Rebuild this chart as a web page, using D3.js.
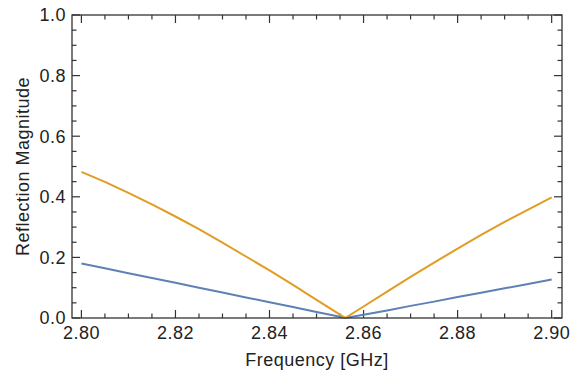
<!DOCTYPE html>
<html>
<head>
<meta charset="utf-8">
<script src="https://cdn.jsdelivr.net/npm/d3@7"></script>
<style>
  body { margin: 0; background: #fff; }
  text { font-family: "Liberation Sans", Arial, sans-serif; fill: #222; letter-spacing: 0.5px; }
</style>
</head>
<body>
<div id="chart"></div>
<script>
var freq = [2.800, 2.805, 2.810, 2.815, 2.820, 2.825, 2.830, 2.835, 2.840, 2.845, 2.850, 2.855, 2.8561,
            2.860, 2.865, 2.870, 2.875, 2.880, 2.885, 2.890, 2.895, 2.900];
// reflection magnitude, orange trace
var orangeVals = [0.482, 0.449, 0.413, 0.375, 0.335, 0.293, 0.249, 0.203, 0.157, 0.109, 0.060, 0.011, 0.0,
                  0.038, 0.087, 0.136, 0.183, 0.229, 0.274, 0.317, 0.358, 0.398];
// reflection magnitude, blue trace
var blueVals = [0.180, 0.164, 0.148, 0.132, 0.116, 0.100, 0.084, 0.068, 0.052, 0.036, 0.020, 0.004, 0.0,
                0.011, 0.025, 0.040, 0.054, 0.069, 0.083, 0.098, 0.112, 0.127];

var xTicks = [2.80, 2.82, 2.84, 2.86, 2.88, 2.90];
var yTicks = [0.0, 0.2, 0.4, 0.6, 0.8, 1.0];

var W = 580, H = 374;
var margin = {top: 15, right: 18, bottom: 56, left: 72},
    width = W - margin.left - margin.right,
    height = H - margin.top - margin.bottom;

var svg = d3.select("#chart")
  .append("svg")
    .attr("width", W)
    .attr("height", H)
  .append("g")
    .attr("transform", "translate(" + margin.left + "," + margin.top + ")");

var x = d3.scaleLinear()
  .domain([2.798, 2.9022])
  .range([0, width]);

var y = d3.scaleLinear()
  .domain([0, 1])
  .range([height, 0]);

var frameColor = "#333";
var majorLen = 8, minorLen = 4.5;

// minor tick positions
var xMinor = d3.range(2.800, 2.9001, 0.005).filter(function(v) {
  return xTicks.every(function(t) { return Math.abs(t - v) > 1e-6; });
});
var yMinor = d3.range(0, 1.0001, 0.05).filter(function(v) {
  return yTicks.every(function(t) { return Math.abs(t - v) > 1e-6; });
});

var ticks = svg.append("g").attr("stroke", frameColor).attr("stroke-width", 1.2);

// bottom + top ticks (inside)
[[xTicks, majorLen], [xMinor, minorLen]].forEach(function(p) {
  ticks.selectAll(null).data(p[0]).enter().append("line")
    .attr("x1", function(d) { return x(d); }).attr("x2", function(d) { return x(d); })
    .attr("y1", height).attr("y2", height - p[1]);
  ticks.selectAll(null).data(p[0]).enter().append("line")
    .attr("x1", function(d) { return x(d); }).attr("x2", function(d) { return x(d); })
    .attr("y1", 0).attr("y2", p[1]);
});
// left + right ticks (inside)
[[yTicks, majorLen], [yMinor, minorLen]].forEach(function(p) {
  ticks.selectAll(null).data(p[0]).enter().append("line")
    .attr("y1", function(d) { return y(d); }).attr("y2", function(d) { return y(d); })
    .attr("x1", 0).attr("x2", p[1]);
  ticks.selectAll(null).data(p[0]).enter().append("line")
    .attr("y1", function(d) { return y(d); }).attr("y2", function(d) { return y(d); })
    .attr("x1", width).attr("x2", width - p[1]);
});

// tick labels
svg.append("g").selectAll("text").data(xTicks).enter().append("text")
  .attr("x", function(d) { return x(d); })
  .attr("y", height + 21)
  .attr("text-anchor", "middle")
  .style("font-size", "18px")
  .text(function(d) { return d.toFixed(2); });

svg.append("g").selectAll("text").data(yTicks).enter().append("text")
  .attr("x", -6)
  .attr("y", function(d) { return y(d); })
  .attr("dy", "0.36em")
  .attr("text-anchor", "end")
  .style("font-size", "18px")
  .text(function(d) { return d.toFixed(1); });

// lines
var line = d3.line()
  .x(function(d) { return x(d[0]); })
  .y(function(d) { return y(d[1]); });

svg.append("path")
  .datum(d3.zip(freq, blueVals))
  .attr("fill", "none")
  .attr("stroke", "#5E81B5")
  .attr("stroke-width", 2)
  .attr("stroke-linejoin", "round")
  .attr("d", line);

svg.append("path")
  .datum(d3.zip(freq, orangeVals))
  .attr("fill", "none")
  .attr("stroke", "#E19C24")
  .attr("stroke-width", 2)
  .attr("stroke-linejoin", "round")
  .attr("d", line);

// frame
svg.append("rect")
  .attr("x", 0).attr("y", 0)
  .attr("width", width).attr("height", height)
  .attr("fill", "none")
  .attr("stroke", frameColor)
  .attr("stroke-width", 1.3);

// axis titles
svg.append("text")
  .attr("x", width / 2)
  .attr("y", height + 48)
  .attr("text-anchor", "middle")
  .style("font-size", "18px")
  .text("Frequency [GHz]");

svg.append("text")
  .attr("transform", "translate(" + (-margin.left + 29) + "," + (height / 2) + ") rotate(-90)")
  .attr("text-anchor", "middle")
  .style("font-size", "18px")
  .text("Reflection Magnitude");
</script>
</body>
</html>
